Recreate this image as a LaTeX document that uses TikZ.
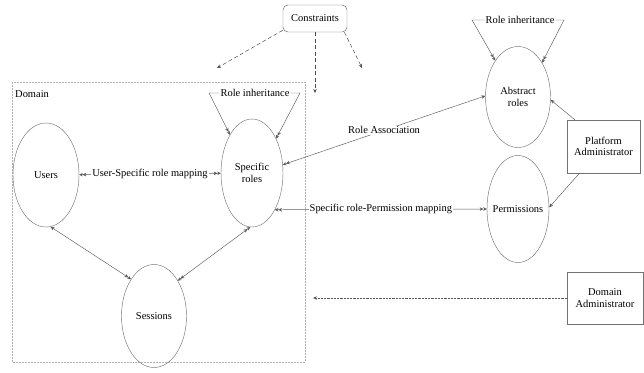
\documentclass[tikz,border=0pt]{standalone}
\usepackage{fontspec}
\setmainfont{Liberation Serif}
\usetikzlibrary{arrows.meta,shapes.geometric}

\tikzset{
  Sgl/.tip={Stealth[length=4bp,width=3.5bp]},
  Dbl/.tip={Stealth[length=3.5bp,width=3.5bp]Stealth[length=3.5bp,width=3.5bp]}
}

\begin{document}
\begin{tikzpicture}[x=1bp,y=-1bp,font=\fontsize{10.5}{11.5}\selectfont,
  line/.style={draw=black!65,line width=0.45pt},
  cline/.style={draw=black!70,line width=0.5pt,dash pattern=on 4bp off 2.5bp,-Sgl},
  role/.style={ellipse,draw=black!55,line width=0.45pt,align=center,inner xsep=-8bp,inner ysep=0pt},
  admin/.style={rectangle,draw=black!55,line width=0.45pt,align=center,inner sep=0pt},
  lbl/.style={fill=white,inner sep=1pt}]

\useasboundingbox (0,0) rectangle (644,372);

% domain frame
\draw[black!30,line width=0.4pt,dash pattern=on 2pt off 1pt] (12,82) rectangle (305,362);
\node[anchor=north west,inner sep=0pt] (domain) at (15,90) {Domain};

\node[draw=black!60,line width=0.45pt,rounded corners=5bp,minimum width=64bp,minimum height=27bp] (cons) at (315,18.5) {Constraints};

\node[role,minimum width=66bp,minimum height=104bp] (users) at (46,175) {Users};
\node[role,minimum width=62bp,minimum height=108bp] (spec) at (252,173) {Specific\\roles};
\node[role,minimum width=65bp,minimum height=103bp] (sess) at (154,316) {Sessions};
\node[role,minimum width=65bp,minimum height=101bp] (abs) at (518,97) {Abstract\\roles};
\node[role,minimum width=62bp,minimum height=107bp] (perm) at (518,209) {Permissions};

\node[admin,minimum width=73bp,minimum height=53bp] (padmin) at (603.5,146.5) {Platform\\Administrator};
\node[admin,minimum width=76bp,minimum height=52bp] (dadmin) at (605,298) {Domain\\Administrator};

\node[inner sep=1pt] (rinh1) at (255,93) {Role inheritance};
\node[inner sep=1pt] (rinh2) at (520,20) {Role inheritance};

\coordinate (r1l) at (209,93);
\coordinate (r1r) at (300,93);
\coordinate (r2l) at (472,20);
\coordinate (r2r) at (564,20);
\coordinate (c1) at (217,68);
\coordinate (c2) at (315,93);
\coordinate (c3) at (362,68);
\coordinate (dtgt) at (313,298);

% constraints
\path (cons.200) edge[cline] (c1)
      (cons) edge[cline] (c2)
      (cons.-25) edge[cline] (c3);

% inheritance
\draw[line,-Dbl] (rinh1.west) -- (r1l) -- (spec.120);
\draw[line,-Dbl] (rinh1.east) -- (r1r) -- (spec.55);
\draw[line,-Dbl] (rinh2.west) -- (r2l) -- (abs.122);
\draw[line,-Dbl] (rinh2.east) -- (r2r) -- (abs.55);

\path (users) edge[line,Dbl-Dbl] node[lbl]{User-Specific role mapping} (spec)
      (spec.15) edge[line,Dbl-Sgl] node[lbl]{Role Association} (abs.178)
      (spec.-58) edge[line,Dbl-Dbl] node[lbl]{Specific role-Permission mapping} (perm.180)
      (users.-85) edge[line,Sgl-Dbl] (sess.122)
      (spec.-92) edge[line,Dbl-Dbl] (sess.56);

\path (padmin.137) edge[line,-Sgl] (abs.-5)
      (padmin.-132) edge[line,-Sgl] (perm.3)
      (dadmin) edge[line,densely dotted,-Sgl] (dtgt);

\end{tikzpicture}
\end{document}
